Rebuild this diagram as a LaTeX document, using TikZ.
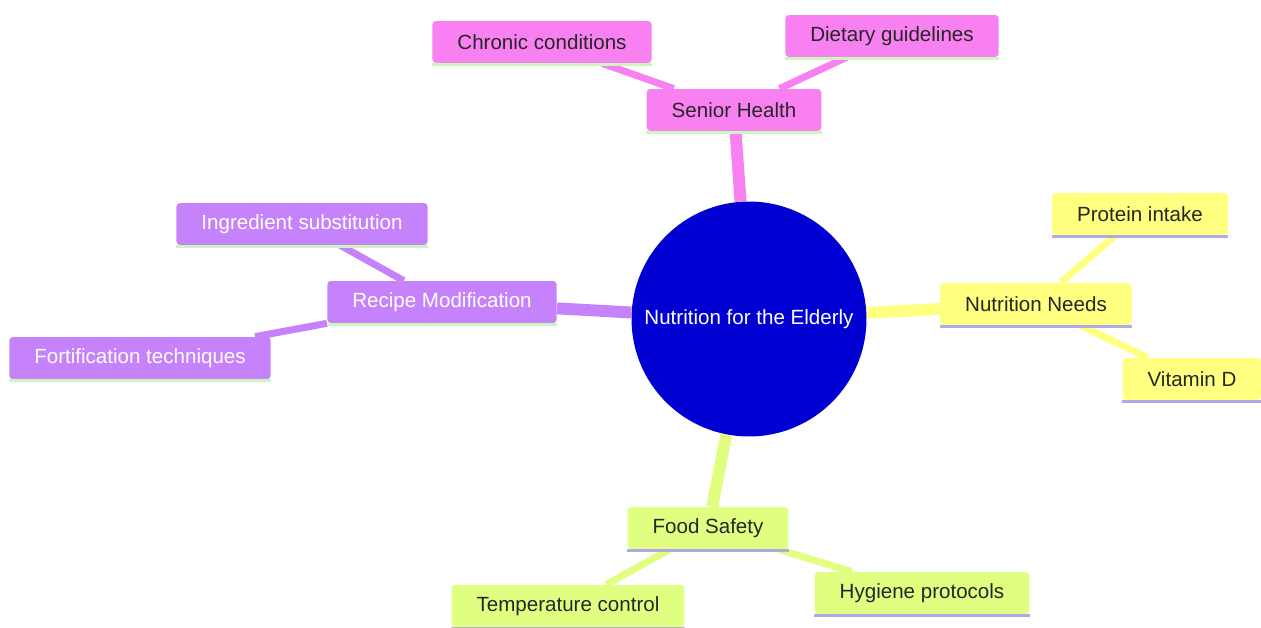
\documentclass[tikz,border=0pt]{standalone}
\usepackage{fontspec}
\setmainfont{Liberation Sans}
\usetikzlibrary{positioning, backgrounds}

\definecolor{rootblue}{RGB}{0,0,210}
\definecolor{healthpink}{RGB}{249,128,240}
\definecolor{needsyellow}{RGB}{255,255,128}
\definecolor{recipepurple}{RGB}{198,130,250}
\definecolor{safetygreen}{RGB}{224,255,128}
\definecolor{lineGreen}{RGB}{205,245,190}
\definecolor{lineLav}{RGB}{175,170,230}

\tikzset{
    topic/.style={rounded corners=2pt, inner xsep=0.5cm, minimum height=0.84cm,
        font=\fontsize{11.7}{14}\selectfont, text=black!85},
    rootedge/.style={line width=6.8pt},
    leafedge/.style={line width=4pt},
}

\begin{document}
\begin{tikzpicture}[x=0.02cm, y=-0.02cm]
    \useasboundingbox (0,0) rectangle (1261,627);

    \node[circle, fill=rootblue, minimum size=4.7cm, text=white,
          font=\fontsize{11.7}{14}\selectfont] (root) at (749,319) {Nutrition for the Elderly};

    \node[topic, fill=healthpink] (health) at (734,110) {Senior Health};
    \node[topic, fill=healthpink] (chronic) at (542,42) {Chronic conditions};
    \node[topic, fill=healthpink] (guide) at (892,36) {Dietary guidelines};

    \node[topic, fill=needsyellow] (needs) at (1036,304) {Nutrition Needs};
    \node[topic, fill=needsyellow] (protein) at (1140,214) {Protein intake};
    \node[topic, fill=needsyellow] (vitd) at (1192,379) {Vitamin D};

    \node[topic, fill=recipepurple, text=white] (recipe) at (442,302) {Recipe Modification};
    \node[topic, fill=recipepurple, text=white] (ingred) at (302,224) {Ingredient substitution};
    \node[topic, fill=recipepurple, text=white] (fortif) at (140,358) {Fortification techniques};

    \node[topic, fill=safetygreen] (safety) at (708,528) {Food Safety};
    \node[topic, fill=safetygreen] (temp) at (568,606) {Temperature control};
    \node[topic, fill=safetygreen] (hygiene) at (922,593) {Hygiene protocols};

    % underlines
    \foreach \n/\c in {health/lineGreen, chronic/lineGreen, guide/lineGreen,
                       needs/lineLav, protein/lineLav, vitd/lineLav,
                       recipe/lineGreen, ingred/lineGreen, fortif/lineGreen,
                       safety/lineLav, temp/lineLav, hygiene/lineLav}
        \draw[\c, line width=1.7pt] ([yshift=-0.8pt]\n.south west) -- ([yshift=-0.8pt]\n.south east);

    \begin{scope}[on background layer]
        \draw[rootedge, healthpink] (root) -- (health);
        \draw[leafedge, healthpink] (health) -- (chronic);
        \draw[leafedge, healthpink] (health) -- (guide);
        \draw[rootedge, needsyellow] (root) -- (needs);
        \draw[leafedge, needsyellow] (needs) -- (protein);
        \draw[leafedge, needsyellow] (needs) -- (vitd);
        \draw[rootedge, recipepurple] (root) -- (recipe);
        \draw[leafedge, recipepurple] (recipe) -- (ingred);
        \draw[leafedge, recipepurple] (recipe) -- (fortif);
        \draw[rootedge, safetygreen] (root) -- (safety);
        \draw[leafedge, safetygreen] (safety) -- (temp);
        \draw[leafedge, safetygreen] (safety) -- (hygiene);
    \end{scope}
\end{tikzpicture}
\end{document}
